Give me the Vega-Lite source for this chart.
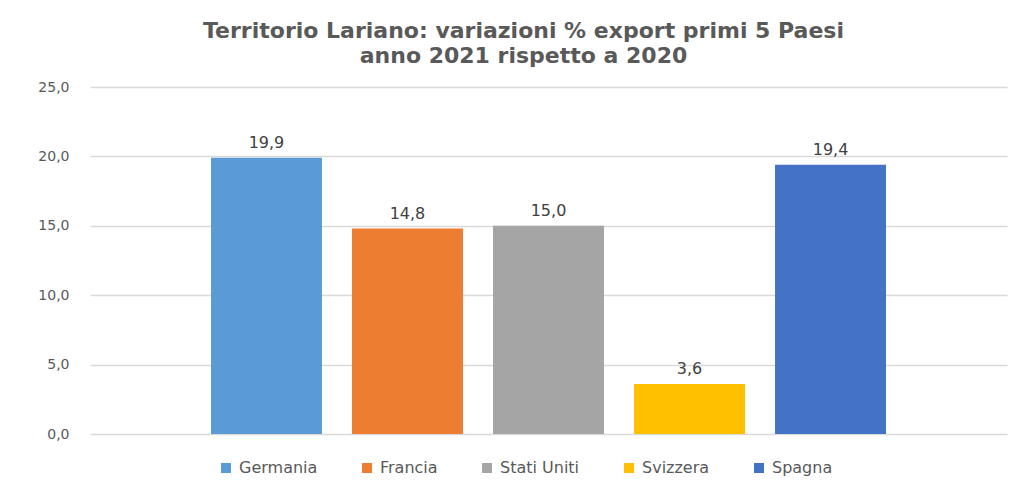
{
  "$schema": "https://vega.github.io/schema/vega-lite/v6.json",
  "width": 917,
  "height": 347,
  "autosize": {"type": "none"},
  "padding": {"left": 90, "top": 87, "right": 20, "bottom": 58},
  "background": "white",
  "config": {
    "locale": {"number": {"decimal": ",", "thousands": ".", "grouping": [3], "currency": ["€", ""]}},
    "view": {"stroke": null},
    "font": "DejaVu Sans"
  },
  "title": {
    "text": ["Territorio Lariano: variazioni % export primi 5 Paesi", "anno 2021 rispetto a 2020"],
    "font": "DejaVu Sans",
    "fontSize": 22,
    "fontWeight": "bold",
    "color": "#595959",
    "anchor": "middle",
    "frame": "group",
    "dx": -25,
    "offset": 12,
    "lineHeight": 25
  },
  "data": {
    "values": [
      {"paese": "Germania", "valore": 19.9},
      {"paese": "Francia", "valore": 14.8},
      {"paese": "Stati Uniti", "valore": 15.0},
      {"paese": "Svizzera", "valore": 3.6},
      {"paese": "Spagna", "valore": 19.4}
    ]
  },
  "encoding": {
    "x": {
      "field": "paese",
      "type": "nominal",
      "sort": null,
      "axis": null,
      "scale": {"paddingInner": 0.213, "paddingOuter": 0.858}
    },
    "y": {
      "field": "valore",
      "type": "quantitative",
      "scale": {"domain": [0, 25]},
      "axis": {
        "title": null,
        "values": [0, 5, 10, 15, 20, 25],
        "format": ".1f",
        "domain": false,
        "ticks": false,
        "labelPadding": 21,
        "labelFont": "DejaVu Sans",
        "labelFontSize": 14,
        "labelColor": "#595959",
        "gridColor": "#d9d9d9",
        "gridWidth": 1.5
      }
    }
  },
  "layer": [
    {
      "mark": {"type": "bar"},
      "encoding": {
        "color": {
          "field": "paese",
          "type": "nominal",
          "sort": null,
          "scale": {
            "domain": ["Germania", "Francia", "Stati Uniti", "Svizzera", "Spagna"],
            "range": ["#5b9bd5", "#ed7d31", "#a5a5a5", "#ffc000", "#4472c4"]
          },
          "legend": {
            "title": null,
            "orient": "none",
            "legendX": 128,
            "legendY": 373,
            "direction": "horizontal",
            "symbolType": "square",
            "symbolSize": 100,
            "symbolStrokeWidth": 0,
            "labelFont": "DejaVu Sans",
            "labelFontSize": 16,
            "labelColor": "#595959",
            "columnPadding": 41,
            "labelOffset": 5
          }
        }
      }
    },
    {
      "mark": {"type": "text", "dy": -15, "font": "DejaVu Sans", "fontSize": 16, "color": "#404040"},
      "encoding": {
        "text": {"field": "valore", "type": "quantitative", "format": ".1f"}
      }
    }
  ]
}
